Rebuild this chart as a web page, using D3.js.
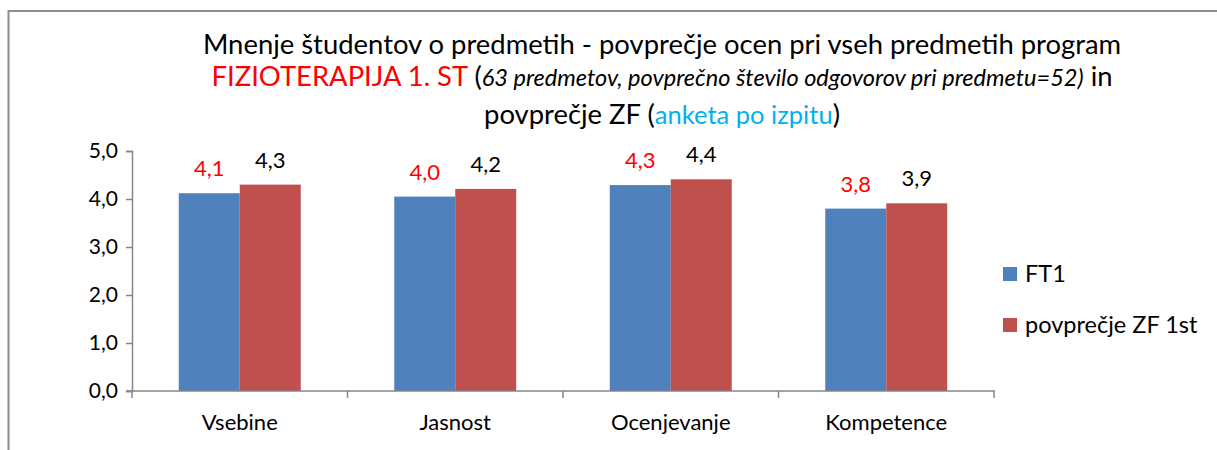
<!DOCTYPE html>
<html>
<head>
<meta charset="utf-8">
<script src="https://cdn.jsdelivr.net/npm/d3@7"></script>
<style>
  body { margin: 0; background: #fff; }
  svg { font-family: Lato, "Open Sans", sans-serif; }
</style>
</head>
<body>
<svg id="chart" width="1217" height="450"></svg>
<script>
// chart data
var categories = ["Vsebine", "Jasnost", "Ocenjevanje", "Kompetence"];
var seriesNames = ["FT1", "povprečje ZF 1st"];
var ft1 = [4.12, 4.05, 4.29, 3.80];
var zf = [4.30, 4.21, 4.41, 3.91];
var ft1Labels = ["4,1", "4,0", "4,3", "3,8"];
var zfLabels = ["4,3", "4,2", "4,4", "3,9"];
var yTicks = [0, 1, 2, 3, 4, 5];

var colors = ["#4f81bd", "#c0504d"];
var labelColors = ["#ff0000", "#000000"];
var axisColor = "#868686";

var svg = d3.select("#chart");

// frame (only top and left edges are visible)
svg.append("line").attr("x1", 8).attr("y1", 11).attr("x2", 1217).attr("y2", 11)
  .attr("stroke", "#8c8c8c").attr("stroke-width", 2);
svg.append("line").attr("x1", 8.5).attr("y1", 10).attr("x2", 8.5).attr("y2", 450)
  .attr("stroke", "#8c8c8c").attr("stroke-width", 2);

// font size that makes a string about `target` px wide
function fitSize(str, target, italic) {
  var tmp = svg.append("text").style("font-size", "20px")
    .style("font-style", italic ? "italic" : "normal").text(str);
  var w = tmp.node().getComputedTextLength();
  tmp.remove();
  return 20 * target / w;
}

// title
var mainSize = fitSize("Mnenje študentov o predmetih - povprečje ocen pri vseh predmetih program", 919);
var itSize = fitSize("63 predmetov, povprečno število odgovorov pri predmetu=52)", 602, true);
var blueSize = fitSize("anketa po izpitu", 178);

var title = svg.append("g").attr("text-anchor", "middle");
title.append("text").attr("x", 662).attr("y", 54).style("font-size", mainSize + "px")
  .text("Mnenje študentov o predmetih - povprečje ocen pri vseh predmetih program");

var t2 = title.append("text").attr("x", 662).attr("y", 86).style("font-size", mainSize + "px");
t2.append("tspan").attr("fill", "#ff0000").text("FIZIOTERAPIJA 1. ST");
t2.append("tspan").text(" (");
t2.append("tspan").style("font-size", itSize + "px").style("font-style", "italic")
  .text("63 predmetov, povprečno število odgovorov pri predmetu=52)");
t2.append("tspan").text(" in");

var t3 = title.append("text").attr("x", 662).attr("y", 124).style("font-size", mainSize + "px");
t3.append("tspan").text("povprečje ZF (");
t3.append("tspan").style("font-size", blueSize + "px").attr("fill", "#00b0f0").text("anketa po izpitu");
t3.append("tspan").text(")");

// scales
var plot = { left: 132, right: 994, top: 151, bottom: 391 };
var x = d3.scaleBand().domain(categories)
  .range([plot.left, plot.right]).paddingInner(0.434).paddingOuter(0.217);
var xs = d3.scaleBand().domain([0, 1]).range([0, x.bandwidth()]);
var y = d3.scaleLinear().domain([0, 5]).range([plot.bottom, plot.top]);

// y axis
var yAxis = svg.append("g").attr("transform", "translate(" + plot.left + ",0)")
  .call(d3.axisLeft(y).tickValues(yTicks).tickSize(6).tickPadding(8)
    .tickFormat(function (d) { return d.toFixed(1).replace(".", ","); }));
yAxis.select(".domain").attr("stroke", axisColor).attr("stroke-width", 1.5);
yAxis.selectAll(".tick line").attr("stroke", axisColor).attr("stroke-width", 1.5);
yAxis.selectAll("text").style("font-size", "21px").style("font-family", "Lato").attr("fill", "#000");

// bars
var rows = categories.map(function (c, i) { return { cat: c, vals: [ft1[i], zf[i]], labels: [ft1Labels[i], zfLabels[i]] }; });
var groups = svg.selectAll(".grp").data(rows).enter().append("g")
  .attr("class", "grp")
  .attr("transform", function (d) { return "translate(" + x(d.cat) + ",0)"; });

var cells = groups.selectAll(".cell")
  .data(function (d) { return d.vals.map(function (v, j) { return { v: v, j: j, label: d.labels[j] }; }); })
  .enter().append("g").attr("class", "cell");

cells.append("rect")
  .attr("x", function (d) { return xs(d.j); })
  .attr("width", xs.bandwidth())
  .attr("y", function (d) { return y(d.v); })
  .attr("height", function (d) { return y(0) - y(d.v); })
  .attr("fill", function (d) { return colors[d.j]; });

cells.append("text")
  .attr("x", function (d) { return xs(d.j) + xs.bandwidth() / 2; })
  .attr("y", function (d) { return y(d.v) - 17; })
  .attr("text-anchor", "middle")
  .style("font-size", "22px")
  .attr("fill", function (d) { return labelColors[d.j]; })
  .text(function (d) { return d.label; });

// x axis
var xAxis = svg.append("g").attr("transform", "translate(0," + plot.bottom + ")");
xAxis.append("line").attr("x1", plot.left - 6).attr("x2", plot.right + 1)
  .attr("stroke", axisColor).attr("stroke-width", 1.5);
var bounds = categories.map(function (c) { return x(c) - x.step() * x.paddingInner() / 2; });
bounds.push(plot.right);
xAxis.selectAll(".bt").data(bounds).enter().append("line")
  .attr("x1", function (d) { return d; }).attr("x2", function (d) { return d; })
  .attr("y1", 0).attr("y2", 7)
  .attr("stroke", axisColor).attr("stroke-width", 1.5);
xAxis.selectAll(".xl").data(categories).enter().append("text")
  .attr("x", function (d) { return x(d) + x.bandwidth() / 2; })
  .attr("y", 39)
  .attr("text-anchor", "middle")
  .style("font-size", "22px")
  .text(function (d) { return d; });

// legend
var legend = svg.selectAll(".leg").data(seriesNames).enter().append("g")
  .attr("transform", function (d, i) { return "translate(1003," + (267 + i * 51) + ")"; });
legend.append("rect").attr("width", 14).attr("height", 14)
  .attr("fill", function (d, i) { return colors[i]; });
legend.append("text").attr("x", 22).attr("y", 7).attr("dy", "0.35em")
  .style("font-size", "23.5px")
  .text(function (d) { return d; });
</script>
</body>
</html>
